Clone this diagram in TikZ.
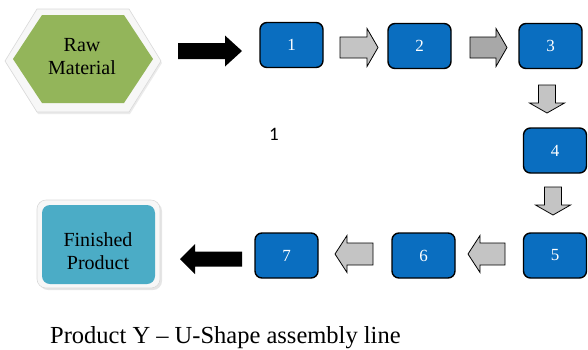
\documentclass[tikz,border=0pt]{standalone}
\usepackage{fontspec}
\setmainfont{Liberation Serif}
\newfontfamily\calib{Carlito}
\usetikzlibrary{calc}
\definecolor{boxblue}{HTML}{0A6EC0}
\definecolor{hexgreen}{HTML}{93B55A}
\definecolor{aqua}{HTML}{4BACC6}
\definecolor{lgray}{HTML}{C4C4C4}
\definecolor{dgray}{HTML}{A8A8A8}
\tikzset{
  stepbox/.style={draw=black, line width=1.4pt, fill=boxblue, rounded corners=7pt,
    minimum width=63pt, minimum height=45pt, inner sep=0pt, text=white,
    font=\fontsize{17}{17}\selectfont},
  bigtext/.style={font=\fontsize{20}{23}\selectfont, align=center, text=black},
  pics/blockarrow/.style n args={4}{code={
    \draw[pic actions] (-#1/2,-#3) -- (#1/2-#2,-#3) -- (#1/2-#2,-#4) -- (#1/2,0)
      -- (#1/2-#2,#4) -- (#1/2-#2,#3) -- (-#1/2,#3) -- cycle;}},
  grayarrow/.style={draw=black, line width=0.8pt, fill=lgray, line join=miter},
  blackarrow/.style={draw=none, fill=black}
}
\begin{document}
\begin{tikzpicture}[x=1pt,y=-1pt]
\useasboundingbox (0,0) rectangle (588,349);
% Raw material hexagon
\fill[black!8] (6,63) -- (38,11) -- (130,11) -- (162,63) -- (130,114) -- (38,114) -- cycle;
\fill[black!3] (5,61) -- (37,9) -- (129,9) -- (161,61) -- (129,112) -- (37,112) -- cycle;
\draw[black!15, line width=0.6pt] (5,61) -- (37,9) -- (129,9) -- (161,61) -- (129,112) -- (37,112) -- cycle;
\fill[hexgreen] (13,59) -- (42,15) -- (124,15) -- (153,59) -- (124,103) -- (42,103) -- cycle;
\node[bigtext] (raw) at (82,57) {Raw\\Material};
% Finished product
\fill[black!10, rounded corners=9pt] (39,202) rectangle (162,290);
\fill[black!3, rounded corners=9pt] (37,200) rectangle (160,288);
\draw[black!15, line width=0.6pt, rounded corners=9pt] (37,200) rectangle (160,288);
\fill[aqua, rounded corners=8pt] (42,205) rectangle (155,284);
\node[bigtext] (fin) at (98,251) {Finished\\Product};
% station boxes
\node[stepbox] (b1) at (291.5,45) {1};
\node[stepbox] (b2) at (419.5,46) {2};
\node[stepbox] (b3) at (550.5,46) {3};
\node[stepbox] (b4) at (555,150.5) {4};
\node[stepbox] (b5) at (555,255.5) {5};
\node[stepbox] (b6) at (423.5,255.5) {6};
\node[stepbox] (b7) at (286.5,255.5) {7};
% arrows
\pic[blackarrow] at (210,51) {blockarrow={64}{17}{8}{15.5}};
\pic[grayarrow] at (359,47.5) {blockarrow={38}{11}{10.5}{19}};
\pic[grayarrow, fill=dgray] at (488.5,47.5) {blockarrow={37}{11}{10.5}{19}};
\pic[grayarrow, rotate=-90] at (547,99) {blockarrow={28}{10}{8.5}{17.5}};
\pic[grayarrow, rotate=-90] at (553,201) {blockarrow={28}{10}{8.5}{17.5}};
\pic[grayarrow, rotate=180] at (486.5,254) {blockarrow={37}{12}{11}{18.5}};
\pic[grayarrow, rotate=180] at (354,254) {blockarrow={38}{12}{11}{18.5}};
\pic[blackarrow, rotate=180] at (211,259) {blockarrow={62}{15}{7.5}{15}};
% labels
\node[font=\calib\fontsize{19}{19}\selectfont, text=black] (lab) at (274,134) {1};
\node[anchor=base west, font=\fontsize{24.5}{26}\selectfont, text=black, inner sep=0pt] (cap) at (50,343) {Product Y -- U-Shape assembly line};
\end{tikzpicture}
\end{document}
